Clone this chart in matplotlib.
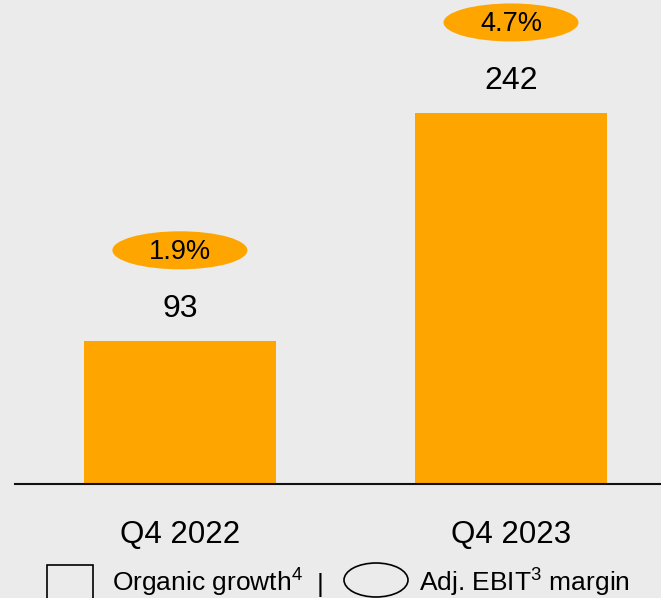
import matplotlib.pyplot as plt
from matplotlib.patches import Ellipse, Rectangle
from matplotlib.transforms import ScaledTranslation

plt.rcParams['font.family'] = ['Liberation Sans', 'DejaVu Sans']
plt.rcParams['mathtext.fontset'] = 'custom'
plt.rcParams['mathtext.rm'] = 'Liberation Sans'
plt.rcParams['mathtext.default'] = 'regular'

quarters = ["Q4 2022", "Q4 2023"]
adj_ebit = [93, 242]
margins = ["1.9%", "4.7%"]

bg = "#ebebeb"
orange = "#ffa500"

W, H = 661, 598
fig = plt.figure(figsize=(W / 100, H / 100), dpi=100, facecolor=bg)
ax = fig.add_axes([15 / W, 114.5 / H, 646 / W, 483.5 / H])
ax.set_facecolor(bg)

x = list(range(len(quarters)))
ax.bar(x, adj_ebit, width=0.58, color=orange, zorder=2)
ax.set_xlim(-0.498, 1.453)
ax.set_ylim(0, 316.2)

for xi, v, m in zip(x, adj_ebit, margins):
    ax.annotate(str(v), (xi, v), xytext=(0, 23.5), textcoords="offset points",
                ha="center", va="center", fontsize=23)
    trans = fig.dpi_scale_trans + ScaledTranslation(xi, v, ax.transData)
    ax.add_patch(Ellipse((0, 0.91), 1.35, 0.38, transform=trans,
                         facecolor=orange, edgecolor="none", clip_on=False))
    ax.annotate(m, (xi, v), xytext=(0, 64.5), textcoords="offset points",
                ha="center", va="center", fontsize=19.5)

for s in ["top", "right", "left"]:
    ax.spines[s].set_visible(False)
ax.spines["bottom"].set_linewidth(1.5)
ax.spines["bottom"].set_color("#111111")
ax.set_yticks([])
ax.set_xticks(x)
ax.set_xticklabels(quarters, fontsize=22.5)
ax.tick_params(axis="x", length=0, pad=26.5)

# legend row drawn in figure pixels
def fx(p):
    return p / W
def fy(p):
    return (H - p) / H

fig.patches.append(Rectangle((fx(47), fy(605)), 46 / W, 40 / H, transform=fig.transFigure,
                             facecolor="none", edgecolor="black", linewidth=1.2))
fig.text(fx(112), fy(592), "Organic growth$^{4}$", fontsize=19, va="baseline")
fig.text(fx(320), fy(592), "|", fontsize=19, va="baseline", ha="center")
fig.patches.append(Ellipse((fx(376), fy(580)), 64 / W, 34 / H, transform=fig.transFigure,
                           facecolor="none", edgecolor="black", linewidth=1.2))
fig.text(fx(419), fy(592), "Adj. EBIT$^{3}$ margin", fontsize=19, va="baseline")

fig.savefig("out.png", dpi=100, facecolor=bg)
